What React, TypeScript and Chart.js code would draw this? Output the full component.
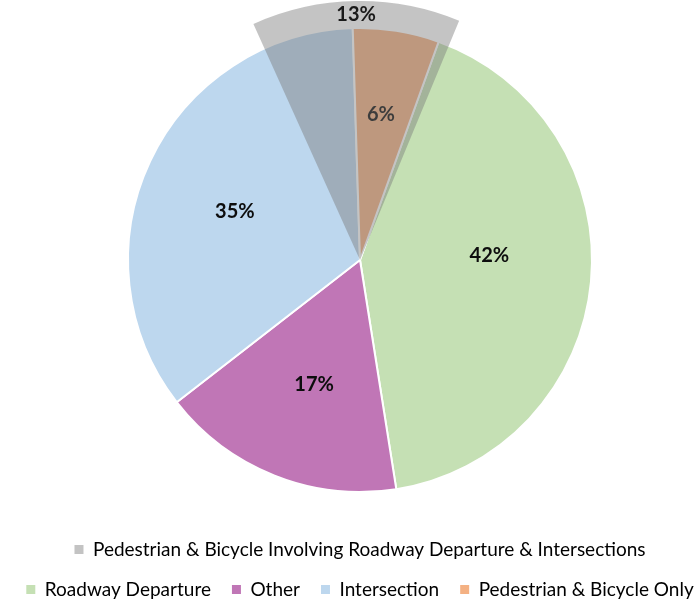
import { useEffect, useRef } from "react";
import { Chart, registerables } from "chart.js";

Chart.register(...registerables);

// Crash types (legend order) and their share of the total, in percent
const categories = [
  "Roadway Departure",
  "Other",
  "Intersection",
  "Pedestrian & Bicycle Only",
];
const shares = [42, 17, 35, 6];

// Pedestrian & bicycle crashes that also fall into the roadway departure / intersection slices
const overlapCategory =
  "Pedestrian & Bicycle Involving Roadway Departure & Intersections";
const overlapShare = 13;

const sliceColors = ["#C5E0B4", "#C076B6", "#BDD7EE", "#F4B183"];
const overlapColor = "rgba(121,121,121,0.44)";
const overlapLegendColor = "#C3C3C3";

// Canvas geometry
const CANVAS_W = 760;
const CANVAS_H = 601;
const CANVAS_LEFT = -20;
const PIE_RADIUS = 232;
const OVERLAP_RADIUS = 259;
const PIE_ROTATION = 19.8;
const OVERLAP_ROTATION = -24.3;

// Placement of the percentage labels inside each slice
const labelRadial = [0.558, 0.573, 0.578, 0.634];
const labelNudgeDeg = [-7.2, -1.4, -4.1, -0.8];

const FONT = "Lato, 'Open Sans', sans-serif";

type LabelSettings = {
  indices: number[];
  radial: number[];
  nudge: number[];
  color: string;
};

function percentLabelPlugin(id: string, s: LabelSettings) {
  return {
    id,
    afterDatasetsDraw(chart: any) {
      const { ctx } = chart;
      const meta = chart.getDatasetMeta(0);
      const values = chart.data.datasets[0].data as number[];
      ctx.save();
      ctx.font = `bold 20px ${FONT}`;
      ctx.fillStyle = s.color;
      ctx.textAlign = "center";
      ctx.textBaseline = "middle";
      s.indices.forEach((i, k) => {
        const arc = meta.data[i];
        if (!arc) return;
        const { x, y, startAngle, endAngle, outerRadius } = arc.getProps(
          ["x", "y", "startAngle", "endAngle", "outerRadius"],
          true
        );
        const mid = (startAngle + endAngle) / 2 + (s.nudge[k] * Math.PI) / 180;
        const r = outerRadius * s.radial[k];
        ctx.fillText(`${values[i]}%`, x + r * Math.cos(mid), y + r * Math.sin(mid));
      });
      ctx.restore();
    },
  };
}

export default function App() {
  const baseRef = useRef<HTMLCanvasElement>(null);
  const overlayRef = useRef<HTMLCanvasElement>(null);

  useEffect(() => {
    if (!baseRef.current || !overlayRef.current) return;

    const base = new Chart(baseRef.current, {
      type: "pie",
      data: {
        labels: categories,
        datasets: [
          {
            data: shares,
            backgroundColor: sliceColors,
            borderColor: "#ffffff",
            borderWidth: 2,
          },
        ],
      },
      options: {
        responsive: false,
        animation: false,
        events: [],
        radius: PIE_RADIUS,
        rotation: PIE_ROTATION,
        layout: { padding: { top: 1, bottom: -8, left: 0, right: 0 } },
        plugins: {
          tooltip: { enabled: false },
          legend: {
            position: "bottom",
            labels: {
              boxWidth: 9,
              boxHeight: 9,
              padding: 21,
              color: "#404040",
              font: { family: FONT, size: 19 },
              generateLabels: () => [
                {
                  text: overlapCategory,
                  fillStyle: overlapLegendColor,
                  strokeStyle: overlapLegendColor,
                  lineWidth: 0,
                  hidden: false,
                  index: categories.length,
                },
                ...categories.map((c, i) => ({
                  text: c,
                  fillStyle: sliceColors[i],
                  strokeStyle: sliceColors[i],
                  lineWidth: 0,
                  hidden: false,
                  index: i,
                })),
              ],
            },
          },
        },
      } as any,
      plugins: [
        percentLabelPlugin("pieLabels", {
          indices: [0, 1, 2, 3],
          radial: labelRadial,
          nudge: labelNudgeDeg,
          color: "#0d0d0d",
        }),
      ],
    });

    // The overlap sector shares the pie's centre: copy its chart area as padding
    const area = base.chartArea;
    const overlay = new Chart(overlayRef.current, {
      type: "pie",
      data: {
        labels: [overlapCategory, ""],
        datasets: [
          {
            data: [overlapShare, 100 - overlapShare],
            backgroundColor: [overlapColor, "rgba(0,0,0,0)"],
            borderWidth: 0,
          },
        ],
      },
      options: {
        responsive: false,
        animation: false,
        events: [],
        radius: OVERLAP_RADIUS,
        rotation: OVERLAP_ROTATION,
        layout: {
          padding: {
            left: area.left,
            top: area.top,
            right: CANVAS_W - area.right,
            bottom: CANVAS_H - area.bottom,
          },
        },
        plugins: {
          tooltip: { enabled: false },
          legend: { display: false },
        },
      } as any,
      plugins: [
        percentLabelPlugin("overlapLabel", {
          indices: [0],
          radial: [0.946],
          nudge: [0],
          color: "#1a1a1a",
        }),
      ],
    });

    return () => {
      overlay.destroy();
      base.destroy();
    };
  }, []);

  const canvasStyle: React.CSSProperties = {
    position: "absolute",
    left: CANVAS_LEFT,
    top: 0,
  };

  return (
    <div
      style={{
        position: "fixed",
        left: 0,
        top: 0,
        width: 696,
        height: 601,
        overflow: "hidden",
        background: "#ffffff",
      }}
    >
      <canvas ref={baseRef} width={CANVAS_W} height={CANVAS_H} style={canvasStyle} />
      <canvas ref={overlayRef} width={CANVAS_W} height={CANVAS_H} style={canvasStyle} />
    </div>
  );
}
